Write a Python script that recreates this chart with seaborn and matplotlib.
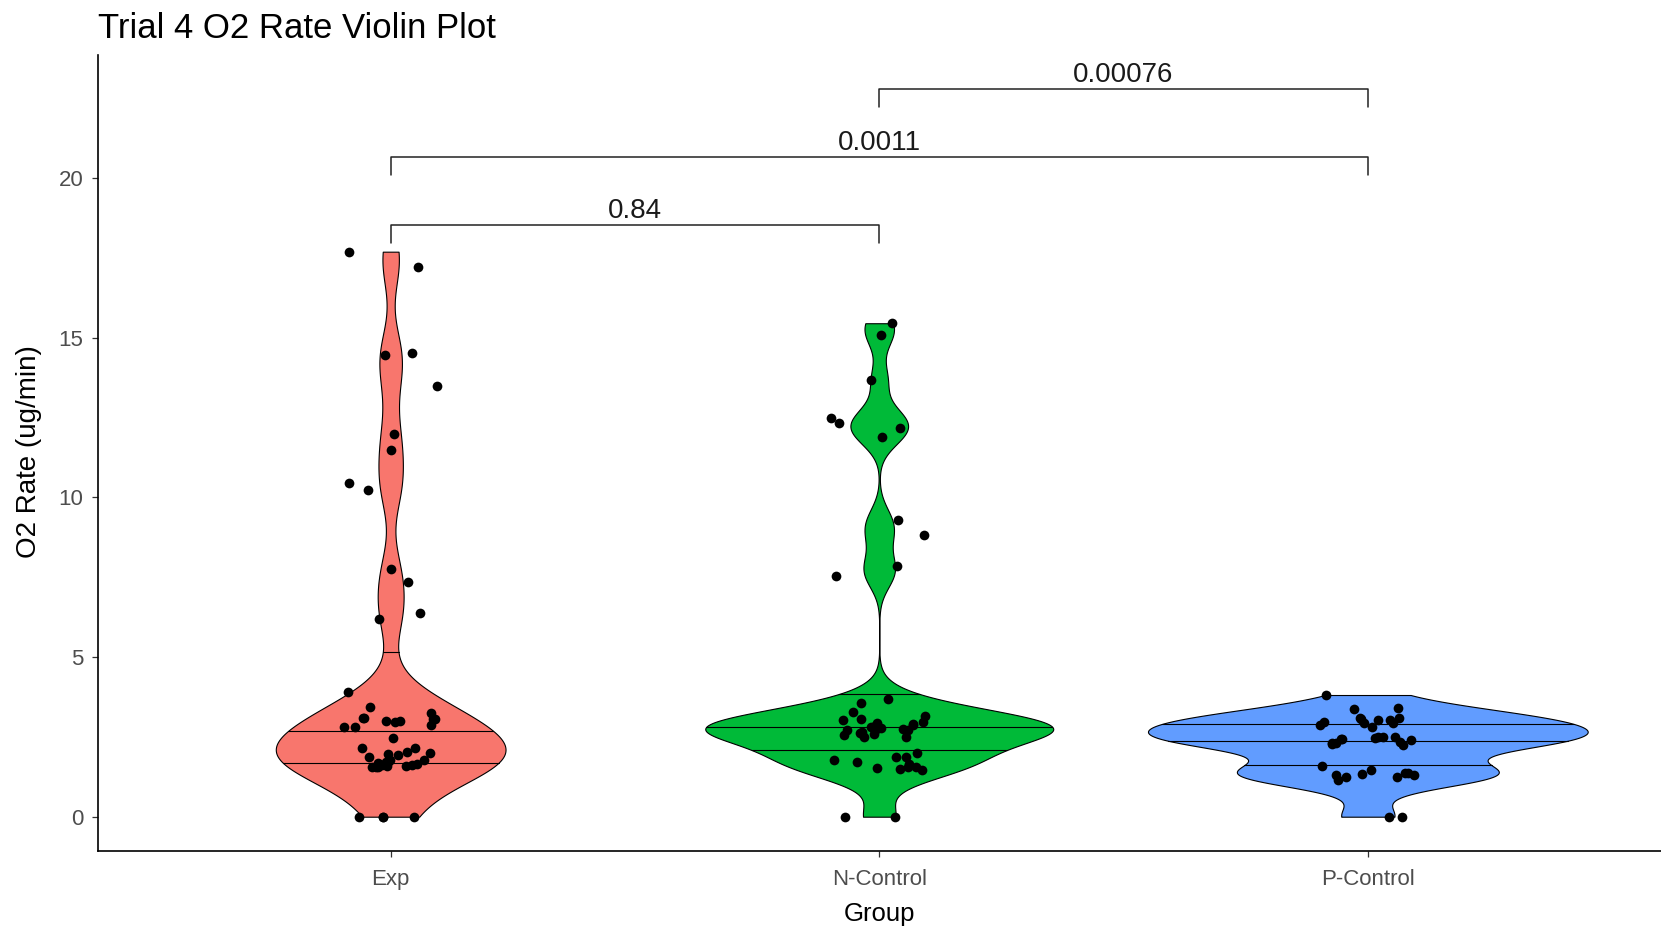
import numpy as np
import pandas as pd
import matplotlib
matplotlib.use("Agg")
import matplotlib.pyplot as plt
import seaborn as sns

# ---------------- data ----------------
groups = ["Exp", "N-Control", "P-Control"]
group_colors = ["#F8766D", "#00BA38", "#619CFF"]

exp_rate = [17.69, 17.2, 14.46, 14.53, 13.5, 11.98, 11.48, 10.44, 10.23, 7.74, 7.36, 6.39, 6.2,
            3.91, 3.43, 3.26, 3.08, 3.0, 3.05, 2.8, 3.0, 3.06, 3.08, 2.97, 2.87, 2.8, 2.45,
            2.14, 2.04, 1.95, 2.14, 1.78, 1.69, 1.72, 1.6, 1.78, 1.65, 1.57, 1.93, 1.88,
            1.72, 1.57, 1.6, 1.55, 1.58, 1.62, 1.63, 2.0, 0.0, 0.0, 0.0, 0.0]
ncontrol_rate = [15.45, 15.09, 13.68, 12.48, 12.32, 12.16, 11.9, 9.29, 8.82, 7.86, 7.55,
                 3.57, 3.68, 3.29, 3.15, 2.98, 2.9, 2.92, 2.87, 3.03, 3.05, 2.74, 2.74, 2.77,
                 2.56, 2.51, 2.66, 2.63, 2.72, 2.82, 2.59, 2.51, 2.7, 2.78, 2.85, 1.88, 2.0,
                 1.88, 1.65, 1.46, 1.78, 1.57, 1.72, 1.52, 1.55, 1.48, 0.0, 0.0]
pcontrol_rate = [3.81, 3.36, 3.39, 3.05, 3.03, 3.03, 3.08, 2.94, 2.87, 3.08, 2.94, 2.98, 2.82,
                 2.51, 2.35, 2.4, 2.3, 2.42, 2.49, 2.28, 2.42, 2.46, 2.3, 2.49, 2.25, 1.59,
                 1.46, 1.25, 1.31, 1.25, 1.31, 1.36, 1.36, 1.15, 1.34, 0.0, 0.0]

comparisons = [("Exp", "N-Control"), ("Exp", "P-Control"), ("N-Control", "P-Control")]
p_labels = ["0.84", "0.0011", "0.00076"]
bracket_levels = [18.54, 20.66, 22.79]
y_ticks = [0, 5, 10, 15, 20]
quantiles = [0.25, 0.5, 0.75]

df = pd.DataFrame({
    "Group": ["Exp"] * len(exp_rate) + ["N-Control"] * len(ncontrol_rate)
             + ["P-Control"] * len(pcontrol_rate),
    "Rate": exp_rate + ncontrol_rate + pcontrol_rate,
})


def nrd0(kde):
    """R's default bandwidth (bw.nrd0) expressed as a scipy factor."""
    x = np.asarray(kde.dataset).ravel()
    sd = x.std(ddof=1)
    q75, q25 = np.percentile(x, [75, 25])
    iqr = (q75 - q25) / 1.34
    lo = min(sd, iqr) if iqr > 0 else sd
    return 0.9 * lo * len(x) ** -0.2 / sd


# ---------------- figure ----------------
sns.set_style("ticks")
plt.rcParams["font.family"] = ["Liberation Sans", "DejaVu Sans"]

fig = plt.figure(figsize=(16.61, 9.31), dpi=100)
ax = fig.add_axes([0.0587, 0.0864, 0.9413, 0.8546])

sns.violinplot(data=df, x="Group", y="Rate", hue="Group", order=groups, hue_order=groups,
               palette=group_colors, saturation=1, legend=False, dodge=False,
               inner=None, cut=0, width=0.9, density_norm="area", common_norm=True,
               bw_method=nrd0, gridsize=512, linecolor="black", linewidth=0.8, ax=ax)

# quantile lines computed from the drawn densities (as ggplot's draw_quantiles)
for coll in list(ax.collections):
    verts = coll.get_paths()[0].vertices
    c = (verts[:, 0].max() + verts[:, 0].min()) / 2
    right = verts[verts[:, 0] > c + 1e-9]
    ys, idx = np.unique(right[:, 1], return_index=True)
    hw = right[idx, 0] - c
    cum = np.concatenate([[0], np.cumsum((hw[1:] + hw[:-1]) / 2 * np.diff(ys))])
    cum /= cum[-1]
    for q in quantiles:
        qy = np.interp(q, cum, ys)
        w = np.interp(qy, ys, hw)
        ax.plot([c - w, c + w], [qy, qy], color="black", lw=0.8, zorder=3)

np.random.seed(7)
sns.stripplot(data=df, x="Group", y="Rate", order=groups, color="black", jitter=0.1,
              size=7, linewidth=0, ax=ax, zorder=4)

# significance brackets
for (g1, g2), lab, lvl in zip(comparisons, p_labels, bracket_levels):
    x1, x2 = groups.index(g1), groups.index(g2)
    ax.plot([x1, x1, x2, x2], [lvl - 0.57, lvl, lvl, lvl - 0.57],
            color="#222222", lw=1.1, zorder=5)
    ax.text((x1 + x2) / 2, lvl + 0.2, lab, ha="center", va="baseline",
            fontsize=20, color="#1a1a1a")

ax.set_xlim(-0.6, 2.6)
ax.set_ylim(-1.06, 23.85)
ax.set_yticks(y_ticks)
ax.set_yticklabels([str(t) for t in y_ticks])
sns.despine(ax=ax)
for s in ["left", "bottom"]:
    ax.spines[s].set_linewidth(1.2)
    ax.spines[s].set_color("black")
ax.tick_params(axis="both", length=4, width=0.9, color="#333333",
               labelcolor="#4D4D4D", labelsize=16)
ax.tick_params(axis="x", pad=9)
ax.tick_params(axis="y", pad=6)

ax.set_xlabel("Group", fontsize=18.5, color="black")
ax.xaxis.set_label_coords(0.5, -0.0800)
ax.xaxis.label.set_va("center")
ax.set_ylabel("O2 Rate (ug/min)", fontsize=20, color="black")
ax.yaxis.set_label_coords(-0.0441, 0.501)
ax.yaxis.label.set_va("center")

fig.text(0.0587, 1 - 38 / 931, "Trial 4 O2 Rate Violin Plot", fontsize=25,
         ha="left", va="baseline", color="black")

fig.savefig("out.png", dpi=100)
